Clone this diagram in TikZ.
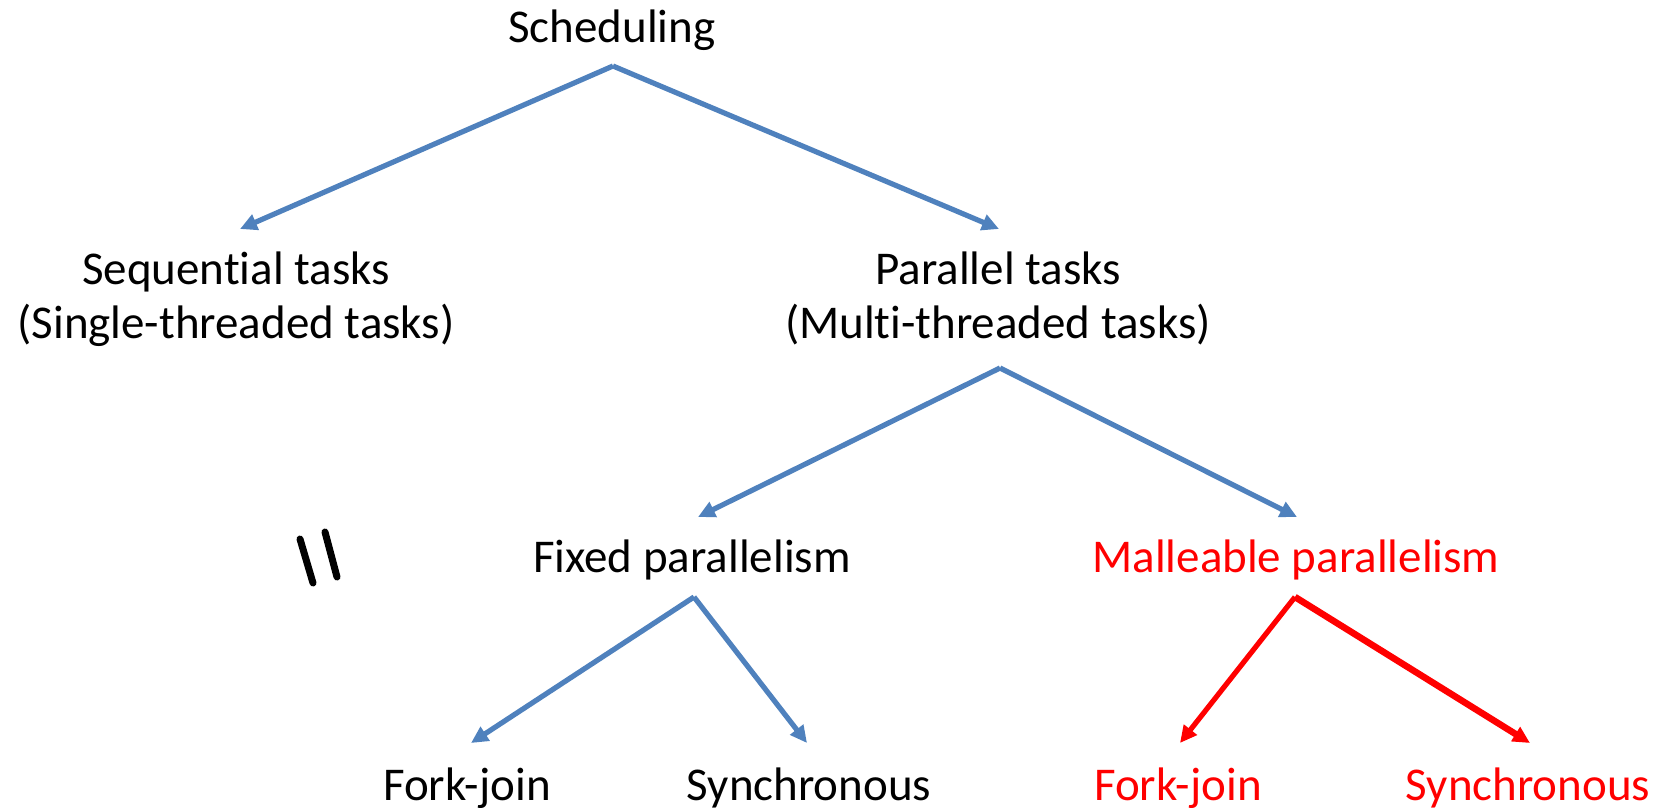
\documentclass[tikz,border=0pt]{standalone}
\usepackage{fontspec}
\setmainfont{Carlito}[Ligatures=NoCommon]
\usetikzlibrary{arrows.meta}
\definecolor{treeblue}{HTML}{4F81BD}
\definecolor{treered}{HTML}{FF0000}
\begin{document}
\begin{tikzpicture}[x=0.5pt,y=-0.5pt,
  label/.style={inner sep=0pt, anchor=base, align=center,
    font=\fontsize{23.5}{27}\selectfont},
  redlabel/.style={label, text=treered},
  link/.style={draw=treeblue, line width=2.6pt,
    -{Triangle[length=8.5pt,width=8pt]}},
  redlink/.style={link, draw=treered},
  ]
\useasboundingbox (0,0) rectangle (1671,808);

% labels (two-line labels are placed by the baseline of their last line)
\node[label] (sched) at (612,43) {Scheduling};
\node[label] (seq) at (236,338) {Sequential tasks\\(Single-threaded tasks)};
\node[label] (par) at (998,338) {Parallel tasks\\(Multi-threaded tasks)};
\node[label] (fixed) at (692,572) {Fixed parallelism};
\node[redlabel] (mall) at (1296,572) {Malleable parallelism};
\node[label] (fj1) at (467,800) {Fork-join};
\node[label] (sy1) at (809,800) {Synchronous};
\node[redlabel] (fj2) at (1178,800) {Fork-join};
\node[redlabel] (sy2) at (1528,800) {Synchronous};

% branch points and arrow tips
\coordinate (schedOut) at (613,66);
\coordinate (seqIn) at (240,229);
\coordinate (parIn) at (999,229);
\coordinate (parOut) at (1000,368);
\coordinate (fixedIn) at (698,517);
\coordinate (mallIn) at (1297,517);
\coordinate (fixedOut) at (694,597);
\coordinate (fj1In) at (471,743);
\coordinate (sy1In) at (807,743);
\coordinate (mallOut) at (1295,597);
\coordinate (fj2In) at (1180,743);
\coordinate (sy2In) at (1530,743);

% connectors
\draw[link] (schedOut) -- (seqIn);
\draw[link] (schedOut) -- (parIn);
\draw[link] (parOut) -- (fixedIn);
\draw[link] (parOut) -- (mallIn);
\draw[link] (fixedOut) -- (fj1In);
\draw[link] (fixedOut) -- (sy1In);
\draw[redlink] (mallOut) -- (fj2In);
\draw[redlink, line width=3.3pt] (mallOut) -- (sy2In);

% break mark
\draw[line width=3.5pt, line cap=round] (300,539) -- (313,583);
\draw[line width=3.5pt, line cap=round] (325,532) -- (337,577);
\end{tikzpicture}
\end{document}
